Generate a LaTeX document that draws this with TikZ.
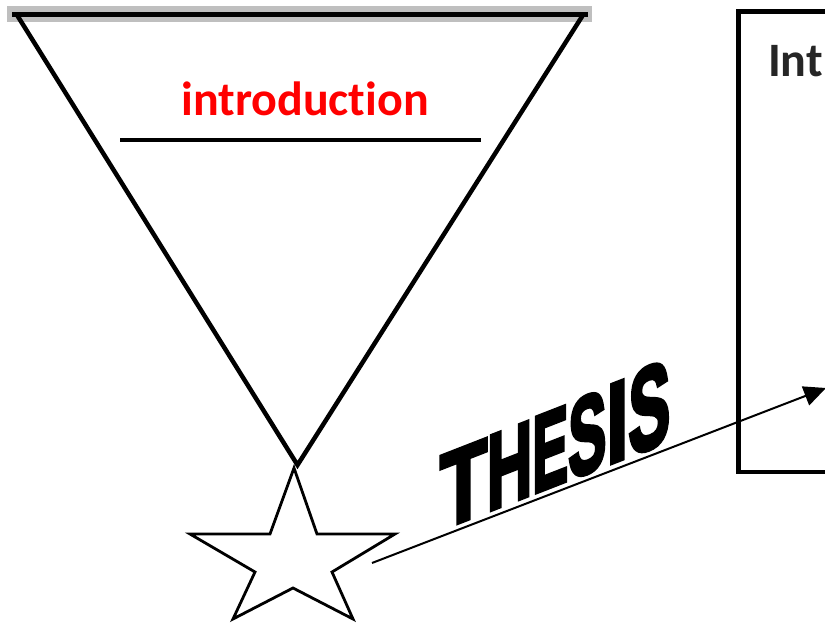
\documentclass[tikz,border=0pt]{standalone}
\usepackage{fontspec}
\usetikzlibrary{arrows.meta}
\newfontfamily\carlito{Carlito}[Ligatures={NoCommon}]
\newfontfamily\thesisfont{Liberation Sans Bold}[FakeBold=4]
\newcommand\ThesisGlyph[3]{\scalebox{#1}[#2]{#3}}
\tikzset{
  thesisltr/.style={anchor=base west, inner sep=0pt, outer sep=0pt, transform shape, text=black},
  tri/.style={line width=4.5pt, black},
  starline/.style={line width=2.8pt, black, line join=miter},
  lbl/.style={inner sep=0pt, outer sep=0pt}
}
\begin{document}
\begin{tikzpicture}[x=1pt, y=-1pt]
\useasboundingbox[fill=white] (0,0) rectangle (825,626);
% inverted triangle
\draw[line width=16pt, black!25] (7,14) -- (592,14);
\draw[line width=5pt] (12,14.5) -- (588,14.5);
\coordinate (apex) at (297.5,465);
\draw[tri] (17,15) -- (apex) -- (583,15);
\node[lbl, anchor=base, text={rgb,255:red,255;green,0;blue,0}, font=\carlito\bfseries\fontsize{48}{48}\selectfont] (intro) at (305,115) {introduction};
\draw[line width=4pt] (120,140) -- (481,140);
% star
\draw[starline] (294,468) -- (317,534) -- (395,534) -- (332,572) -- (353,619) -- (293,588) -- (233,619) -- (255,572) -- (190,534) -- (270,534) -- cycle;
% box on the right
\node[draw, line width=4.5pt, anchor=north west, minimum width=220pt, minimum height=460pt, inner sep=0pt] (box) at (736,9.5) {};
\node[lbl, anchor=base west, text=black!85, font=\carlito\bfseries\fontsize{48}{48}\selectfont] (intbox) at (768,77) {Int};
% arrow
\coordinate (starR) at (372,563);
\coordinate (tip) at (826,388);
\draw[line width=2pt, -{Triangle[length=22pt, width=20pt]}] (starR) -- (tip);
% THESIS
\begin{scope}[shift={(440,529.9)}]
\node[thesisltr, yslant=0.39, font=\thesisfont\fontsize{110}{110}\selectfont] (thesis) at (0,0)
  {\ThesisGlyph{0.70}{0.965}{T}\ThesisGlyph{0.57}{0.977}{H}\ThesisGlyph{0.49}{0.99}{E}\ThesisGlyph{0.52}{1.0}{S}\ThesisGlyph{0.72}{1.03}{I}\ThesisGlyph{0.57}{1.066}{S}};
\end{scope}
\end{tikzpicture}
\end{document}
